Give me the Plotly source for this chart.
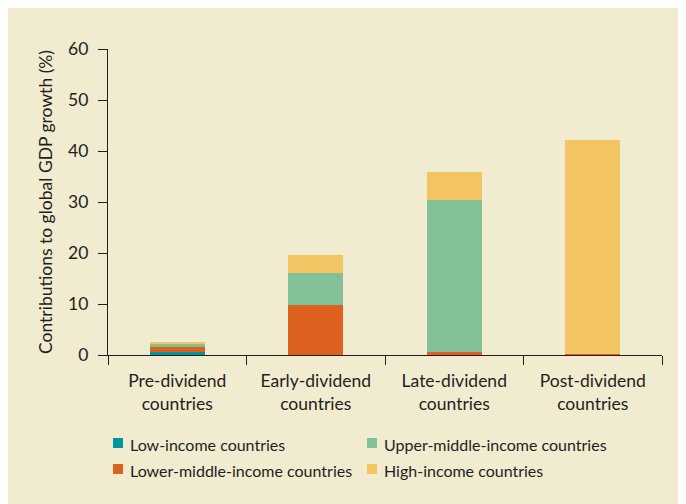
import plotly.graph_objects as go

categories = ["Pre-dividend<br>countries", "Early-dividend<br>countries",
              "Late-dividend<br>countries", "Post-dividend<br>countries"]
series_names = ["Low-income countries", "Lower-middle-income countries",
                "Upper-middle-income countries", "High-income countries"]
low_income = [0.5, 0.0, 0.0, 0.0]
lower_middle = [1.1, 9.8, 0.6, 0.15]
upper_middle = [0.6, 6.3, 29.8, 0.0]
high_income = [0.2, 3.5, 5.5, 42.05]
y_ticks = [0, 10, 20, 30, 40, 50, 60]

colors = ["#00969E", "#DE621F", "#82C098", "#F2C462"]
BG = "#F1EBD0"
INK = "#231F20"
FONT = "Lato"

fig = go.Figure()
for name, vals, col in zip(series_names,
                           [low_income, lower_middle, upper_middle, high_income],
                           colors):
    fig.add_trace(go.Bar(x=categories, y=vals, name=name, marker_color=col,
                         marker_line_width=0, width=0.4, showlegend=False))

OFF = 8  # page body margin offset
W, H = 686, 504
L = 108 - OFF
T = 49 - OFF
R = W - (662 - OFF)
B = H - (355 - OFF)
pw, ph = W - L - R, H - T - B

def px2x(px):  # screen px -> paper x
    return (px - OFF - L) / pw

def py2y(py):  # screen px -> paper y
    return (H - B - (py - OFF)) / ph

# legend (two columns, drawn as squares + text)
legend_pos = {  # name -> (square left px, square top px) in screen coords
    "Low-income countries": (113, 438),
    "Upper-middle-income countries": (367, 438),
    "Lower-middle-income countries": (113, 464),
    "High-income countries": (367, 464),
}
for name, col in zip(series_names, colors):
    sx, sy = legend_pos[name]
    fig.add_shape(type="rect", xref="paper", yref="paper",
                  x0=px2x(sx), x1=px2x(sx + 10), y0=py2y(sy + 10), y1=py2y(sy),
                  fillcolor=col, line_width=0)
    fig.add_annotation(xref="paper", yref="paper", x=px2x(sx + 15), y=py2y(sy + 6),
                       xanchor="left", yanchor="middle", text=name, showarrow=False,
                       font=dict(family=FONT, size=16, color=INK))

fig.update_layout(
    width=W, height=H,
    margin=dict(l=L, r=R, t=T, b=B, autoexpand=False),
    paper_bgcolor=BG, plot_bgcolor=BG,
    barmode="stack",
    font=dict(family=FONT, size=17, color=INK),
    showlegend=False,
)
fig.update_xaxes(type="category", range=[-0.5, 3.5], showline=True, linecolor=INK,
                 linewidth=1.3, ticks="outside", tickson="boundaries", ticklen=9,
                 tickcolor=INK, tickwidth=1.3, showgrid=False, zeroline=False,
                 tickfont=dict(family=FONT, size=17.5, color=INK), ticklabelstandoff=10)
fig.update_yaxes(range=[0, 60], tickvals=y_ticks, showline=True, linecolor=INK,
                 linewidth=1.3, ticks="outside", ticklen=9, tickcolor=INK, tickwidth=1.3,
                 showgrid=False, zeroline=False,
                 tickfont=dict(family=FONT, size=17.5, color=INK), ticklabelstandoff=6,
                 title=dict(text="Contributions to global GDP growth (%)",
                            font=dict(family=FONT, size=17.5, color=INK), standoff=10))

fig.write_html("out.html")
